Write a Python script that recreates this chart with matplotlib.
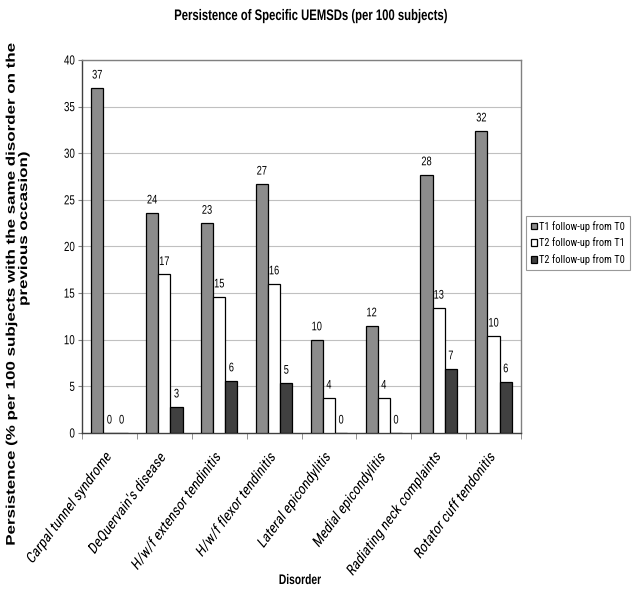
import matplotlib
matplotlib.use("Agg")
import matplotlib.pyplot as plt
import numpy as np
from matplotlib import font_manager
from matplotlib.transforms import ScaledTranslation, Affine2D
from matplotlib.patheffects import AbstractPathEffect

# ---- fonts: Arial-like glyphs, horizontally compressed like the reference ----
ttf = font_manager.fontManager.ttflist
names = {f.name for f in ttf}
cond = "Liberation Sans"
for n in ["Liberation Sans Narrow", "Arial Narrow", "Roboto Condensed", "Open Sans Condensed",
          "Noto Sans Condensed", "DejaVu Sans Condensed"]:
    if n in names:
        cond = n
        break
plt.rcParams['font.family'] = ['Liberation Sans', 'DejaVu Sans']


class GlyphXform(AbstractPathEffect):
    """Scale / slant the glyph outlines in the text's own frame.
    Optionally shift short lines (glyph units) along the baseline."""
    def __init__(self, sx=1.0, sy=1.0, skew=0.0, px=0.5, short_len=None, short_shift=0.0):
        super().__init__()
        self.sx, self.sy, self.skew, self.px = sx, sy, skew, px
        self.short_len, self.short_shift = short_len, short_shift

    def draw_path(self, renderer, gc, tpath, affine, rgbFace=None):
        ext = tpath.get_extents()
        cx = ext.x0 + self.px * (ext.x1 - ext.x0)
        cy = 0.5 * (ext.y0 + ext.y1)
        t = (Affine2D().translate(-cx, -cy).scale(self.sx, self.sy)
             .skew_deg(self.skew, 0).translate(cx, cy))
        if self.short_len is not None and (ext.x1 - ext.x0) < self.short_len:
            t = t.translate(self.short_shift, 0)
        renderer.draw_path(gc, tpath, t + affine, rgbFace)


SQ = 0.74
sq_center = [GlyphXform(sx=SQ, px=0.5)]
sq_right = [GlyphXform(sx=SQ, px=1.0)]

categories = ["Carpal tunnel syndrome", "DeQuervain's disease", "H/w/f extensor tendinitis",
              "H/w/f flexor tendinitis", "Lateral epicondylitis", "Medial epicondylitis",
              "Radiating neck complaints", "Rotator cuff tendonitis"]
series_names = ["T1 follow-up from T0", "T2 follow-up from T1", "T2 follow-up from T0"]
t1_t0 = [37.0, 23.6, 22.5, 26.7, 10.0, 11.5, 27.7, 32.4]
t2_t1 = [0.0, 17.0, 14.6, 16.0, 3.75, 3.75, 13.4, 10.4]
t2_t0 = [0.0, 2.8, 5.6, 5.35, 0.0, 0.0, 6.9, 5.5]
yticks = [0, 5, 10, 15, 20, 25, 30, 35, 40]

colors = ["#8c8c8c", "#ffffff", "#404040"]

fig = plt.figure(figsize=(6.35, 5.9), dpi=100)
ax = fig.add_axes([82/635, 1-433/590, (521-82)/635, (433-60)/590])

x = np.arange(len(categories))
w = 1/4.5
for i, (vals, c, nm) in enumerate(zip([t1_t0, t2_t1, t2_t0], colors, series_names)):
    xs = x + (i-1)*w
    ax.bar(xs, vals, width=w, color=c, edgecolor="black", linewidth=0.9, label=nm, zorder=3)
    for xi, v in zip(xs, vals):
        ax.annotate(f"{int(np.floor(v + 0.5))}", (xi, v), xytext=(0, 6.8), textcoords="offset points",
                    ha="center", va="baseline", fontsize=9, zorder=4, path_effects=sq_center)

ax.set_xlim(-0.5, len(categories)-0.5)
ax.set_ylim(0, 40)
ax.set_yticks(yticks)
ax.set_yticklabels([str(t) for t in yticks], fontsize=9.5)
for lab in ax.get_yticklabels():
    lab.set_path_effects(sq_right)
ax.yaxis.grid(True, color="#c0c0c0", linewidth=0.8, zorder=0)
ax.set_axisbelow(True)

ax.set_xticks(x)
ax.set_xticklabels(categories, rotation=53.5, ha="right", va="top", rotation_mode="anchor",
                   fontsize=10.3, family=[cond, "DejaVu Sans"])
ax.tick_params(axis="x", length=0, pad=0)
off = ScaledTranslation(-0.07, -0.18, fig.dpi_scale_trans)
for lab in ax.get_xticklabels():
    lab.set_transform(lab.get_transform() + off)
    lab.set_path_effects([GlyphXform(skew=12, px=1.0)])
ax.set_xticks(np.arange(-0.5, len(categories), 1), minor=True)
ax.tick_params(axis="x", which="minor", length=4, color="#808080")
ax.tick_params(axis="y", length=3, color="#808080", pad=2)

for s in ax.spines.values():
    s.set_color("#808080")
    s.set_linewidth(1.0)
ax.spines["left"].set_color("#404040")
ax.spines["bottom"].set_color("#404040")

fig.text(311/635, 1-20/590, "Persistence of Specific UEMSDs (per 100 subjects)",
         ha="center", va="baseline", fontsize=11, fontweight="bold", path_effects=sq_center)
fig.text(300/635, 1-580/590, "Disorder", ha="center", va="center", fontsize=10,
         fontweight="bold", path_effects=sq_center)

# y-axis title: one text, two lines; the short second line sits toward the top as in the reference
ylab_fs = 12.2
em_px = ylab_fs * 100 / 72.0
shift_units = 66.0 / em_px * 100.0
ylab_fx = [GlyphXform(sy=SQ, px=0.5, short_len=1800, short_shift=shift_units)]
fig.text(17.5/635, 1-295/590,
         "Persistence (% per 100 subjects with the same disorder on the\nprevious occasion)",
         ha="center", va="center", rotation=90, fontsize=ylab_fs, fontweight="bold",
         multialignment="center", linespacing=0.78, path_effects=ylab_fx)

leg = ax.legend(loc="upper left", bbox_to_anchor=(526/635, 1-216/590), bbox_transform=fig.transFigure,
                frameon=True, fancybox=False, prop={"family": cond, "size": 7.5},
                handlelength=0.6, handleheight=0.6, handletextpad=0.2, borderpad=0.45,
                labelspacing=0.55, borderaxespad=0)
leg.get_frame().set_edgecolor("#808080")
leg.get_frame().set_linewidth(0.8)

fig.savefig("out.png", dpi=100)
